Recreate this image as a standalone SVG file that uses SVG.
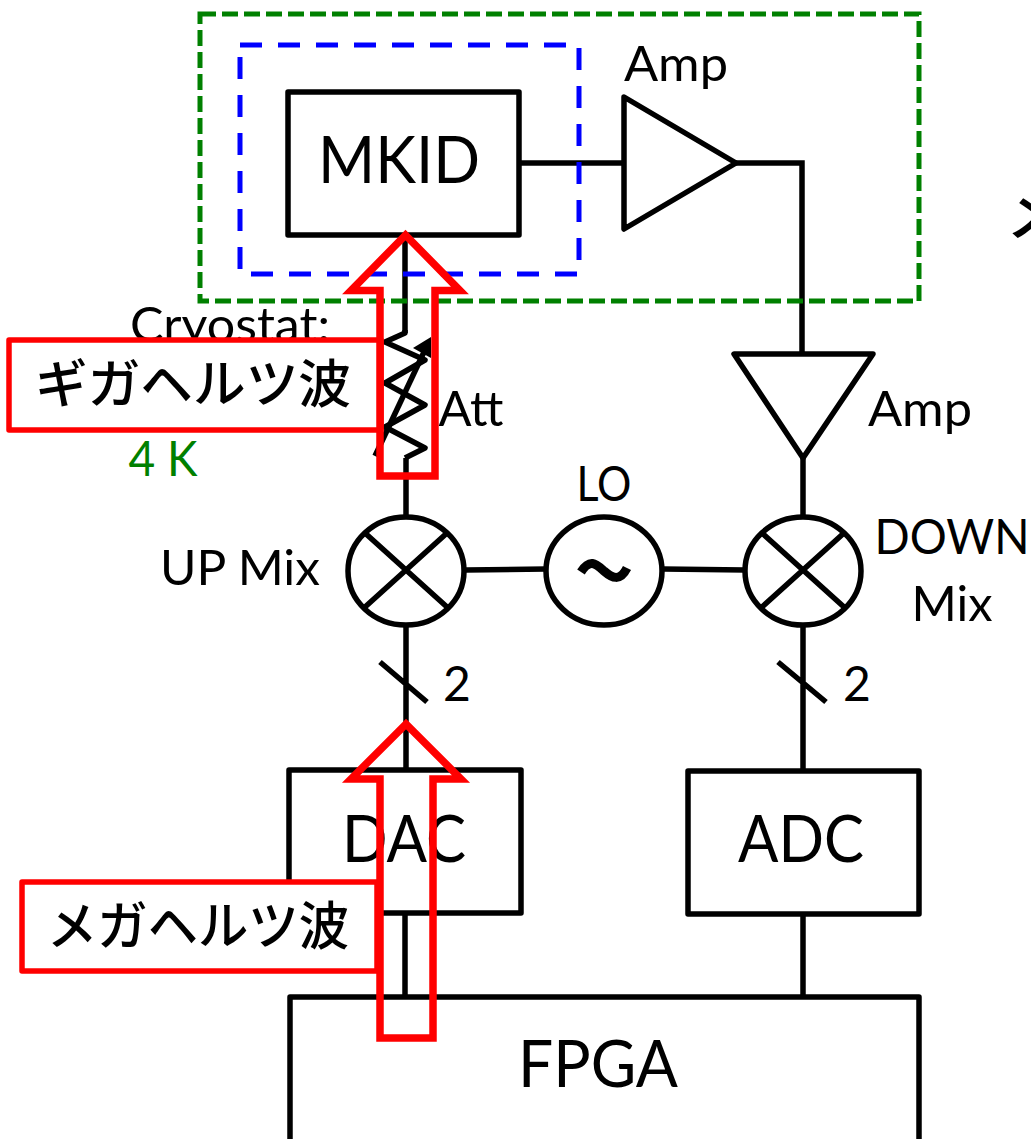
<svg xmlns="http://www.w3.org/2000/svg" width="1031" height="1139" viewBox="0 0 1031 1139">
<style>
.b{fill:#fff;stroke:#000;stroke-width:5.5;stroke-linejoin:round}
.o{fill:none;stroke:#000;stroke-width:5.5;stroke-linejoin:round}
.l{fill:none;stroke:#000;stroke-width:5.5}
.red{fill:none;stroke:#f00;stroke-width:7.5;stroke-miterlimit:10}
.redbox{fill:#fff;stroke:#f00;stroke-width:5.5;stroke-linejoin:round}
text{font-family:Lato,"Open Sans","Noto Sans CJK JP",sans-serif;fill:#000;text-anchor:middle}
.j{font-family:"Noto Sans CJK JP",sans-serif;font-size:52px;font-weight:500}
.big{font-size:66px}
.mid{font-size:48px}
</style>
<rect width="1031" height="1139" fill="#fff"/>
<text id="label-cryostat" x="230" y="342" class="mid" textLength="200" lengthAdjust="spacingAndGlyphs">Cryostat:</text>
<text id="label-4k" x="163" y="476" class="mid" style="fill:#008000" textLength="69" lengthAdjust="spacingAndGlyphs">4 K</text>
<g id="connectors">
<path class="l" d="M519 163H624M736 163H802V354M803 458V518M405 235V333M406 458V518M466 570L546 569M663 569L745 570M406 624V770M803 624V771M778 662L826 702M380 662L427 702M405 914V997M803 915V997"/>
</g>
<g id="node-mkid"><rect class="o" x="288" y="92" width="231" height="143"/><text x="399" y="183" class="big" textLength="162" lengthAdjust="spacingAndGlyphs">MKID</text></g>
<g id="node-amp1"><path class="b" d="M624 97L736 163L624 229Z"/><text x="676" y="81" class="mid" textLength="104" lengthAdjust="spacingAndGlyphs">Amp</text></g>
<g id="node-amp2"><path class="b" d="M734 354H873L803 458Z"/><text x="920" y="426" class="mid" textLength="104" lengthAdjust="spacingAndGlyphs">Amp</text></g>
<g id="node-att"><path class="o" d="M405 330V333L385 342L425 360L385 383L425 405L385 427L425 448L405 458"/><path class="l" d="M375 456L424 352"/><path d="M431 337L431 358L413 348Z" fill="#000"/><text x="471" y="426" class="mid" textLength="65" lengthAdjust="spacingAndGlyphs">Att</text></g>
<g id="node-upmix"><ellipse class="o" cx="406" cy="571" rx="58" ry="54"/><path class="l" d="M365 533L447 607M447 533L365 607"/><text x="240" y="585" class="mid" textLength="160" lengthAdjust="spacingAndGlyphs">UP Mix</text></g>
<g id="node-lo"><ellipse class="o" cx="604" cy="571" rx="58" ry="54"/><path fill="none" stroke="#000" stroke-width="9" d="M581 572C590 558 596 564 604 571C612 578 620 582 627 568"/><text x="604" y="501" class="mid" textLength="55" lengthAdjust="spacingAndGlyphs">LO</text></g>
<g id="node-downmix"><ellipse class="o" cx="803" cy="571" rx="58" ry="54"/><path class="l" d="M762 533L844 607M844 533L762 607"/><text x="952" y="554" class="mid" textLength="155" lengthAdjust="spacingAndGlyphs">DOWN</text><text x="952" y="621" class="mid" textLength="81" lengthAdjust="spacingAndGlyphs">Mix</text></g>
<text id="label-2a" x="457" y="701" class="mid">2</text>
<text id="label-2b" x="857" y="701" class="mid">2</text>
<g id="node-dac"><rect class="o" x="289" y="770" width="232" height="143"/><text x="404" y="862" class="big" textLength="124" lengthAdjust="spacingAndGlyphs">DAC</text></g>
<g id="node-adc"><rect class="o" x="688" y="771" width="231" height="143"/><text x="801" y="862" class="big" textLength="126" lengthAdjust="spacingAndGlyphs">ADC</text></g>
<g id="node-fpga"><rect class="o" x="290" y="997" width="629" height="150"/><text x="598" y="1087" class="big" textLength="160" lengthAdjust="spacingAndGlyphs">FPGA</text></g>
<g id="group-green"><rect x="200" y="14" width="719" height="287" fill="none" stroke="#008000" stroke-width="5" stroke-dasharray="16 6"/></g>
<g id="group-blue"><rect x="240" y="45" width="339" height="229" fill="none" stroke="#00f" stroke-width="5" stroke-dasharray="22 16"/></g>
<g id="node-giga"><rect class="redbox" x="9" y="340" width="372" height="90"/><text x="193" y="403" class="j" textLength="316" lengthAdjust="spacingAndGlyphs">ギガヘルツ波</text></g>
<g id="arrow-giga"><path class="red" d="M380 476H435V290.500H460L405.500 235L351 290.500H380Z"/></g>
<g id="node-mega"><rect class="redbox" x="22" y="882" width="355" height="89"/><text x="198" y="945" class="j" textLength="302" lengthAdjust="spacingAndGlyphs">メガヘルツ波</text></g>
<g id="arrow-mega"><path class="red" d="M380 1038H433V779H461L406 724L351 779H380Z"/></g>
<text id="label-clipped" x="1036" y="236" class="j" style="font-size:60px">メ</text>
</svg>
